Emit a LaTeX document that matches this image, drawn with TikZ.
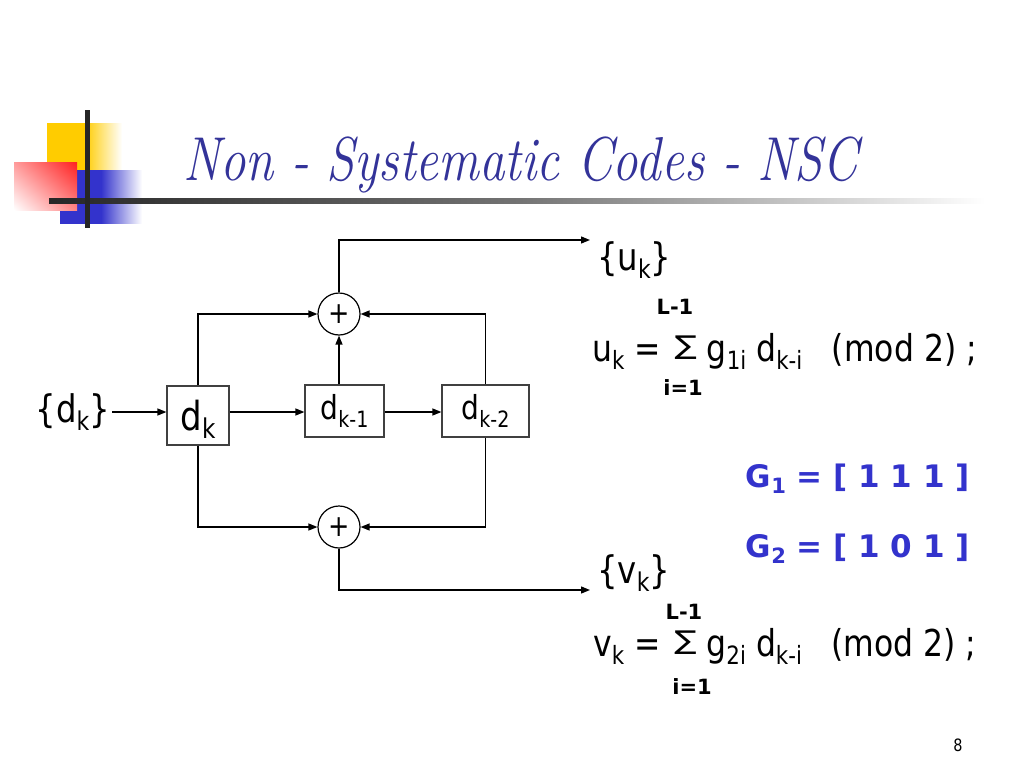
\documentclass[tikz,border=0pt]{standalone}
\usepackage{fontspec}
\setmainfont{DejaVu Sans}[FakeStretch=0.85]
\newfontfamily\bfont{DejaVu Sans}
\newfontfamily\titlefont{Latin Modern Roman}[FakeStretch=0.82]
\usetikzlibrary{arrows.meta,shadings}
\definecolor{titleblue}{HTML}{333399}
\definecolor{gblue}{HTML}{3333CC}
\definecolor{logoyellow}{HTML}{FFCC00}
\definecolor{logored}{HTML}{FF2020}
\definecolor{logoblue}{HTML}{3333CC}
\newcommand\lo[1]{\raisebox{-0.22em}{\scalebox{0.68}{#1}}}
\newcommand\fs[1]{\fontsize{#1}{#1}\selectfont}
\newcommand\sumsym{\hspace{0.1em}\raisebox{0.17em}{\scalebox{1.05}[0.7]{∑}}}
\begin{document}
\begin{tikzpicture}[x=1pt,y=-1pt,
  reg/.style={draw=black!75, line width=1.2pt, fill=white, inner sep=0pt},
  addr/.style={circle, draw, line width=1.2pt, minimum size=42pt, inner sep=0pt, font=\fs{30}},
  arr/.style={line width=1.3pt, -{Triangle[length=9pt,width=7pt]}},
  big/.style={font=\fs{38}},
  small/.style={font=\bfont\bfseries\fs{21}},
  eq/.style={font=\fs{37}, anchor=base west, inner sep=0pt},
  gtext/.style={font=\bfont\bfseries\fs{31}, text=gblue, anchor=base east, inner sep=0pt}
]
\useasboundingbox (0,0) rectangle (1024,768);
% logo
\shade[left color=logoyellow, right color=white, middle color=logoyellow] (47,123) rectangle (122,170);
\shade[left color=logoblue, right color=white, middle color=logoblue] (60,170) rectangle (142,223);
\shade[upper right=logored, lower left=white, upper left=logored!45, lower right=logored!55] (14,162) rectangle (77,210);
\shade[left color=black!85, right color=white, middle color=black!55] (49,198) rectangle (985,203);
\fill[black!85] (85,110) rectangle (89.5,228);
% title
\node[anchor=base west, text=titleblue, font=\titlefont\itshape\fs{62}, inner sep=0pt] (title) at (183,180) {Non - Systematic Codes - NSC};
% diagram
\node[reg, minimum width=62pt, minimum height=59pt] (dk) at (198,415.5) {};
\node[font=\fs{40}, anchor=base] (dkt) at (198,430) {d\lo{k}};
\node[reg, minimum width=79pt, minimum height=52pt, font=\fs{33}] (dk1) at (344.5,411) {d\lo{k-1}};
\node[reg, minimum width=87pt, minimum height=52pt, font=\fs{33}] (dk2) at (485.5,411) {d\lo{k-2}};
\node[addr] (a1) at (339,314) {+};
\node[addr] (a2) at (339,527) {+};
\node[big, anchor=east, inner sep=0pt] (din) at (110,412) {\{d\lo{k}\}};
\coordinate (dinend) at (112,412);
\draw[arr] (dinend) -- (dk.west |- dinend);
\draw[arr] (dk.east |- dinend) -- (dk1.west |- dinend);
\draw[arr] (dk1.east |- dinend) -- (dk2.west |- dinend);
\draw[arr] (dk.north) |- (a1.west);
\draw[arr] (dk2.north) |- (a1.east);
\draw[arr] (dk1.north -| a1) -- (a1.south);
\draw[arr] (dk.south) |- (a2.west);
\draw[arr] (dk2.south) |- (a2.east);
\coordinate (uo) at (590,240);
\coordinate (vo) at (590,590);
\draw[arr] (a1.north) |- (uo);
\draw[arr] (a2.south) |- (vo);
% outputs
\node[big, anchor=west, inner sep=0pt] (uk) at (597,260) {\{u\lo{k}\}};
\node[big, anchor=west, inner sep=0pt] (vk) at (597,573) {\{v\lo{k}\}};
% formulas
\node[small] (l1) at (675,307) {L-1};
\node[eq] (ueq) at (592,361) {u\lo{k} = \sumsym{} g\lo{1i} d\lo{k-i}\hspace{0.8em}(mod 2) ;};
\node[small] (i1) at (683,388) {i=1};
\node[gtext] (g1) at (970,487) {G\lo{1} = [ 1 1 1 ]};
\node[gtext] (g2) at (970,557) {G\lo{2} = [ 1 0 1 ]};
\node[small] (l2) at (684,612) {L-1};
\node[eq] (veq) at (593,656) {v\lo{k} = \sumsym{} g\lo{2i} d\lo{k-i}\hspace{0.8em}(mod 2) ;};
\node[small] (i2) at (692,687) {i=1};
\node[font=\fs{17}] (pg) at (958,745) {8};
\end{tikzpicture}
\end{document}
